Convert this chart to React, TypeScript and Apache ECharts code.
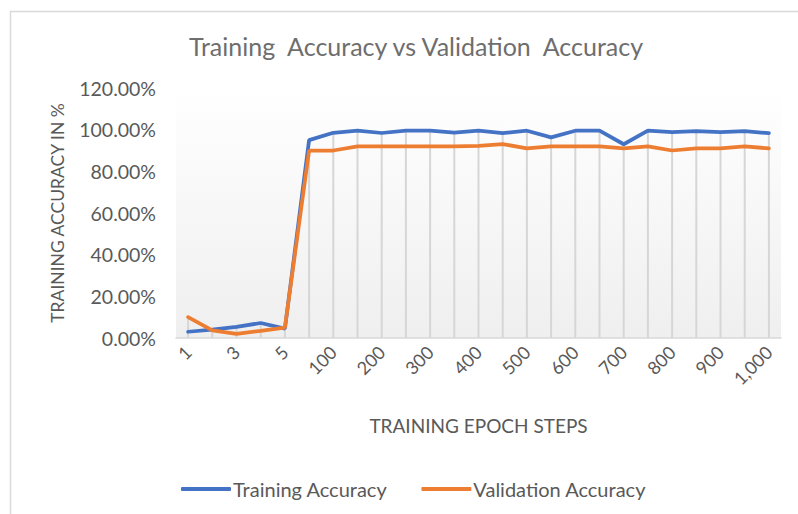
import React, { useEffect, useRef } from "react";
import * as echarts from "echarts";

const categories = [
  "1", "2", "3", "4", "5", "50", "100", "150", "200", "250", "300", "350", "400",
  "450", "500", "550", "600", "650", "700", "750", "800", "850", "900", "950", "1,000",
];
const trainingAccuracy = [
  3, 4, 5.3, 7.2, 4.5, 95, 98.5, 99.5, 98.4, 99.5, 99.5, 98.6, 99.5,
  98.3, 99.5, 96.3, 99.5, 99.5, 93, 99.5, 98.8, 99.3, 98.8, 99.3, 98.3,
];
const validationAccuracy = [
  10, 3.7, 2, 3.4, 5, 90, 90, 92, 92, 92, 92, 92, 92.2,
  93.1, 91, 92, 92, 92, 91, 92, 90, 91, 91, 92, 91,
];
const yTicks = [0, 20, 40, 60, 80, 100, 120];

const FONT = "Lato, 'Noto Sans', sans-serif";
const TEXT = "#595959";

export default function App() {
  const ref = useRef<HTMLDivElement>(null);
  useEffect(() => {
    if (!ref.current) return;
    const chart = echarts.init(ref.current, null, { renderer: "svg" });
    const dropTops = trainingAccuracy.map((v, i) => Math.max(v, validationAccuracy[i]));
    chart.setOption({
      animation: false,
      backgroundColor: "#ffffff",
      textStyle: { fontFamily: FONT },
      graphic: [
        {
          type: "rect",
          shape: { x: 10.5, y: 11.5, width: 820, height: 540 },
          style: { fill: "none", stroke: "#d9d9d9", lineWidth: 1.5 },
          silent: true,
        },
      ],
      title: {
        text: "Training  Accuracy vs Validation  Accuracy",
        left: 411,
        textAlign: "center",
        top: 28,
        textStyle: { fontFamily: FONT, fontSize: 25, fontWeight: "normal", color: "#6e6e6e" },
      },
      legend: {
        data: [
          { name: "Training Accuracy", icon: "roundRect" },
          { name: "Validation Accuracy", icon: "roundRect" },
        ],
        left: 176,
        top: 474,
        itemWidth: 50,
        itemHeight: 4,
        itemGap: 34,
        textStyle: { fontFamily: FONT, fontSize: 20, color: TEXT, padding: [0, 0, 0, -3] },
      },
      grid: {
        left: 176,
        right: 17,
        top: 88,
        bottom: 176,
        show: true,
        borderWidth: 0,
        backgroundColor: new echarts.graphic.LinearGradient(0, 0, 0, 1, [
          { offset: 0, color: "#ffffff" },
          { offset: 1, color: "#efefef" },
        ]),
      },
      xAxis: {
        type: "category",
        data: categories,
        boundaryGap: true,
        name: "TRAINING EPOCH STEPS",
        nameLocation: "middle",
        nameGap: 78,
        nameTextStyle: { fontFamily: FONT, fontSize: 19, color: TEXT },
        axisLine: { show: true, lineStyle: { color: "#d9d9d9", width: 1.5 } },
        axisTick: { show: false },
        splitLine: { show: false },
        axisLabel: {
          interval: 1,
          rotate: 45,
          margin: 11,
          fontFamily: FONT,
          fontSize: 18,
          color: TEXT,
        },
      },
      yAxis: {
        type: "value",
        min: 0,
        max: yTicks[yTicks.length - 1],
        interval: yTicks[1] - yTicks[0],
        name: "TRAINING ACCURACY IN %",
        nameLocation: "middle",
        nameRotate: 90,
        nameGap: 110,
        nameTextStyle: { fontFamily: FONT, fontSize: 17.5, color: TEXT },
        axisLine: { show: false },
        axisTick: { show: false },
        splitLine: { show: false },
        axisLabel: {
          margin: 20,
          fontFamily: FONT,
          fontSize: 19.5,
          color: TEXT,
          formatter: (v: number) => v.toFixed(2) + "%",
        },
      },
      series: [
        {
          name: "dropLines",
          type: "bar",
          data: dropTops,
          barWidth: 2,
          itemStyle: { color: "#d6d6d6" },
          silent: true,
          z: 1,
        },
        {
          name: "Training Accuracy",
          type: "line",
          data: trainingAccuracy,
          showSymbol: false,
          symbol: "none",
          lineStyle: { color: "#4472C4", width: 3.75, cap: "round" },
          itemStyle: { color: "#4472C4" },
          z: 3,
        },
        {
          name: "Validation Accuracy",
          type: "line",
          data: validationAccuracy,
          showSymbol: false,
          symbol: "none",
          lineStyle: { color: "#ED7D31", width: 3.75, cap: "round" },
          itemStyle: { color: "#ED7D31" },
          z: 4,
        },
      ],
    });
    return () => chart.dispose();
  }, []);
  return (
    <div
      ref={ref}
      style={{ position: "fixed", left: 0, top: 0, width: 798, height: 514 }}
    />
  );
}
